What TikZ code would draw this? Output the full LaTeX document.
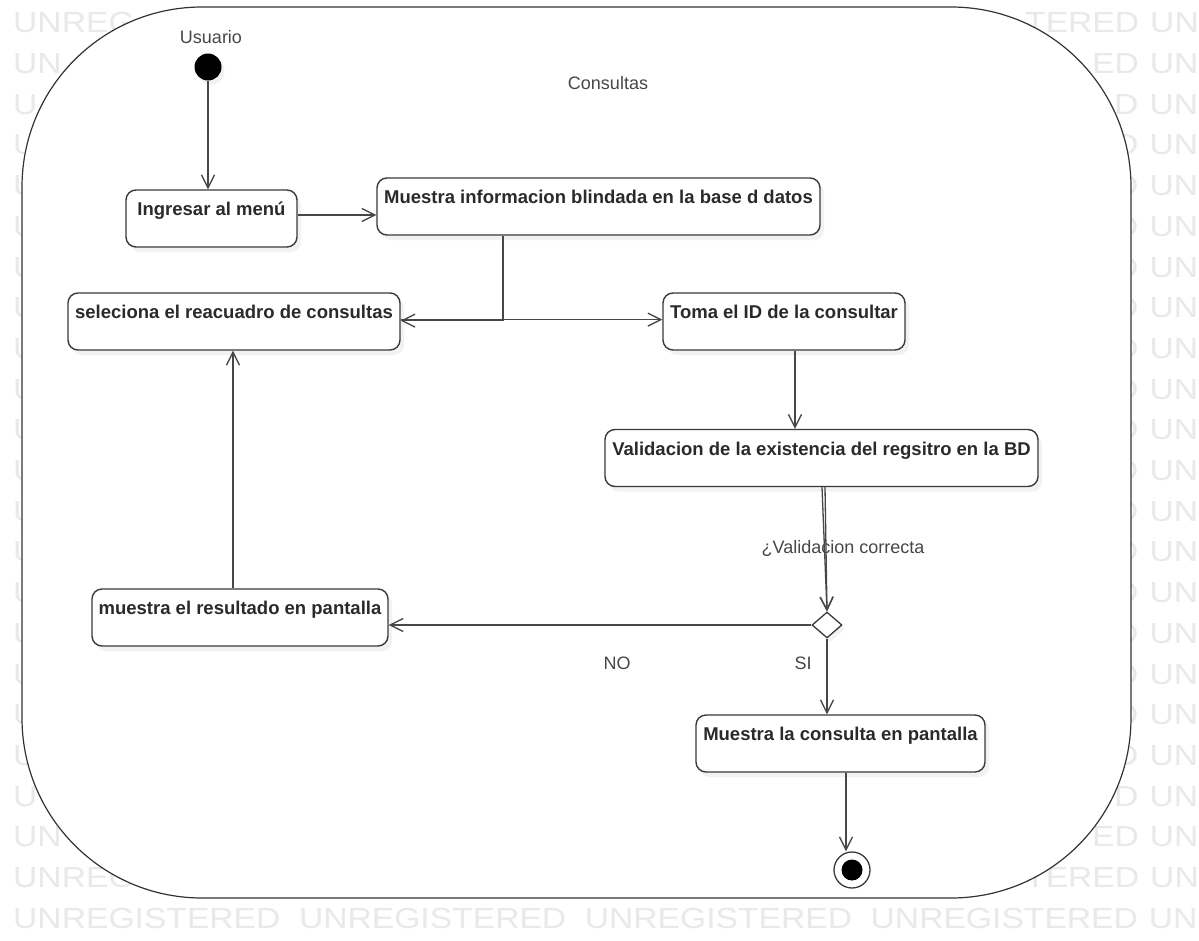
\documentclass[tikz,border=0pt]{standalone}
\usepackage{fontspec}
\setmainfont{Liberation Sans}
\usetikzlibrary{shapes.geometric,arrows.meta,shadows}
\definecolor{ln}{HTML}{3A3A3A}
\definecolor{tx}{HTML}{2A2A2A}
\definecolor{lb}{HTML}{474747}
\definecolor{wmc}{HTML}{E9E9E9}
\newcommand\wmtext[1]{\scalebox{1.16}[1]{#1}}
\newcommand\wmgap{\hspace{9.5pt}}
\newcommand\wmsp{\hspace{16pt}}
\begin{document}
\begin{tikzpicture}[x=1pt,y=-1pt,
  state/.style={draw=ln, line width=1.4pt, rounded corners=10pt, fill=white,
    font=\fontsize{18.5}{22}\selectfont\bfseries, text=tx,
    text height=25.5pt, text depth=31.5pt, inner ysep=0pt, inner xsep=0pt,
    drop shadow={shadow xshift=4pt, shadow yshift=-5pt, opacity=0.10}},
  lbl/.style={font=\fontsize{18}{22}\selectfont, text=lb, inner sep=0pt},
  arr/.style={draw=lb, line width=1.3pt,
    -{Straight Barb[length=13pt,width=13pt,line width=1.3pt]}},
  wm/.style={font=\fontsize{29}{30}\selectfont, text=wmc, inner sep=0pt, anchor=west},
]
\useasboundingbox (0,0) rectangle (1199,940);
\fill[white] (0,0) rectangle (1199,940);
% watermark (only the parts that show round the frame)
\node[wm] (wmL0) at (13,23) {\wmtext{UNREG}};
\node[wm] (wmR0) at (1025,23) {\wmtext{TERED\wmgap UN}};
\node[wm] (wmL1) at (13,63.7) {\wmtext{UN}};
\node[wm] (wmR1) at (1092,63.7) {\wmtext{ED\wmgap UN}};
\foreach \i in {2,...,19} {
  \node[wm] (wmL\i) at (13,{23+40.7*\i}) {\wmtext{U}};
  \node[wm] (wmR\i) at (1114,{23+40.7*\i}) {\wmtext{D\wmgap UN}};
}
\node[wm] (wmL20) at (13,837) {\wmtext{UN}};
\node[wm] (wmR20) at (1092,837) {\wmtext{ED\wmgap UN}};
\node[wm] (wmL21) at (13,877.7) {\wmtext{UNREG}};
\node[wm] (wmR21) at (1025,877.7) {\wmtext{TERED\wmgap UN}};
\node[wm] (wmL22) at (13,918.4) {\wmtext{UNREGISTERED\wmsp UNREGISTERED\wmsp UNREGISTERED\wmsp UNREGISTERED\wmgap UN}};

% container
\node[draw=black!80, line width=1.2pt, fill=white, rounded corners=180pt,
  minimum width=1109pt, minimum height=891pt, inner sep=0pt] (frame) at (576.5,452.5) {};

% labels
\node[lbl] (usr) at (211,37) {Usuario};
\node[lbl] (tit) at (608,83) {Consultas};

% initial / final
\node[circle, fill=black, minimum size=27pt, inner sep=0pt,
  drop shadow={shadow xshift=3pt, shadow yshift=-4pt, opacity=0.10}] (init) at (208,67) {};
\node[circle, draw=ln, line width=1.3pt, fill=white, minimum size=36pt, inner sep=0pt] (fin) at (852,870) {};
\node[circle, fill=black, minimum size=21pt, inner sep=0pt] (finin) at (fin) {};

% states
\node[state, minimum width=171pt] (ing) at (211.5,218.5) {Ingresar al menú};
\node[state, minimum width=443pt] (info) at (598.5,206.5) {Muestra informacion blindada en la base d datos};
\node[state, minimum width=332pt] (sel) at (234,321.5) {seleciona el reacuadro de consultas};
\node[state, minimum width=242pt] (toma) at (784,321.5) {Toma el ID de la consultar};
\node[state, minimum width=433pt] (val) at (821.5,458) {Validacion de la existencia del regsitro en la BD};
\node[state, minimum width=296pt] (res) at (240,617.5) {muestra el resultado en pantalla};
\node[state, minimum width=289pt] (cons) at (840.5,743.5) {Muestra la consulta en pantalla};
\node[diamond, draw=ln, line width=1.3pt, fill=white, minimum width=30pt, minimum height=26pt,
  inner sep=0pt, drop shadow={shadow xshift=3pt, shadow yshift=-4pt, opacity=0.10}] (dec) at (827,625) {};

% guard labels
\node[lbl] (q) at (843,548) {¿Validacion correcta};
\node[lbl] (no) at (617,663) {NO};
\node[lbl] (si) at (803,663) {SI};

% connectors
\coordinate (a1) at (298,215);
\coordinate (j) at (503,320.6);
\coordinate (j2) at (503,319.6);
\coordinate (c1) at (795,0);
\coordinate (c2) at (822,0);
\coordinate (c3) at (825,0);
\coordinate (c4) at (233,0);
\coordinate (c5) at (846,0);
\draw[arr] (init.south) -- (init.south |- ing.north);
\draw[arr] (ing.east |- a1) -- (info.west |- a1);
\draw[arr] (info.south -| j) -- (j) -- (sel.east |- j);
\draw[arr] (sel.east |- j2) -- (toma.west |- j2);
\draw[arr] (toma.south -| c1) -- (val.north -| c1);
\draw[arr] (val.south -| c2) -- (dec.north);
\draw[arr] (val.south -| c3) -- (dec.north);
\draw[arr] (dec.west) -- (dec.west -| res.east);
\draw[arr] (res.north -| c4) -- (sel.south -| c4);
\draw[arr] (dec.south) -- (dec.south |- cons.north);
\draw[arr] (cons.south -| c5) -- (c5 |- fin.north);
\end{tikzpicture}
\end{document}
